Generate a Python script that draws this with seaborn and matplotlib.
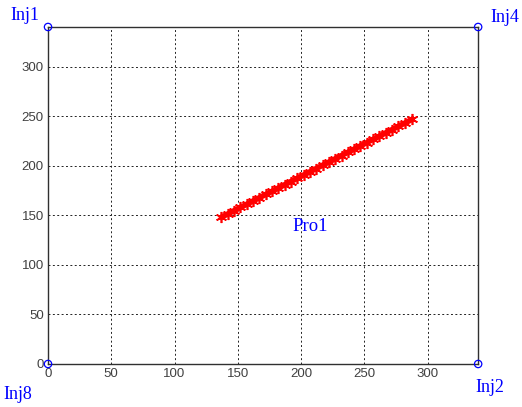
import matplotlib
matplotlib.use("Agg")
import matplotlib.pyplot as plt
import seaborn as sns
import pandas as pd

# well positions (corner injectors)
well_names = ["Inj1", "Inj4", "Inj8", "Inj2"]
well_x = [0, 340, 0, 340]
well_y = [340, 340, 0, 0]
label_x = [-18, 361, -24, 349]
label_y = [352, 350, -31, -24]

# producer trajectory
pro_x = [137, 142, 147, 152, 157, 162, 167, 172, 177, 182, 187, 192, 197, 202, 207, 212,
         217, 222, 227, 232, 237, 242, 247, 252, 257, 262, 267, 272, 277, 282, 288]
pro_y = [148, 151.3, 154.6, 157.9, 161.1, 164.4, 167.7, 171, 174.2, 177.5, 180.8, 184.1,
         187.3, 190.6, 193.9, 197.2, 200.5, 203.7, 207, 210.3, 213.6, 216.8, 220.1, 223.4,
         226.7, 229.9, 233.2, 236.5, 239.8, 243, 247]
pro_label = ("Pro1", 207, 139)

ticks = [0, 50, 100, 150, 200, 250, 300]


def main():
    sns.set_style("white")
    plt.rcParams["font.family"] = ["Liberation Sans", "DejaVu Sans"]

    fig = plt.figure(figsize=(5.22, 4.07), dpi=100)
    ax = fig.add_axes([0.092, 0.1057, 0.824, 0.828])

    traj = pd.DataFrame({"x": pro_x, "y": pro_y})
    sns.lineplot(data=traj, x="x", y="y", ax=ax, color="red", linewidth=4,
                 marker=(6, 2, 0), markersize=8, markeredgewidth=1.2,
                 markeredgecolor="red", sort=False)

    wells = pd.DataFrame({"x": well_x, "y": well_y})
    sns.scatterplot(data=wells, x="x", y="y", ax=ax, s=28, marker="o",
                    facecolor="none", edgecolor="blue", linewidth=0.9,
                    clip_on=False, zorder=5)

    for name, lx, ly in zip(well_names, label_x, label_y):
        ax.text(lx, ly, name, color="blue", fontsize=13, family="Liberation Serif",
                ha="center", va="center", clip_on=False)
    ax.text(pro_label[1], pro_label[2], pro_label[0], color="blue", fontsize=13.5,
            family="Liberation Serif", ha="center", va="center")

    ax.set_xlim(0, 340)
    ax.set_ylim(0, 340)
    ax.set_xticks(ticks)
    ax.set_yticks(ticks)
    ax.set_xlabel("")
    ax.set_ylabel("")
    ax.grid(True, color="#222222", linestyle=(0, (2, 2.5)), linewidth=0.7)
    ax.tick_params(direction="in", length=4, width=0.8, labelsize=9.5,
                   labelcolor="#404040", colors="#404040", pad=3)
    for sp in ax.spines.values():
        sp.set_color("#303030")
        sp.set_linewidth(1.0)
        sp.set_visible(True)

    fig.savefig("out.png", dpi=100)


if __name__ == "__main__":
    main()
